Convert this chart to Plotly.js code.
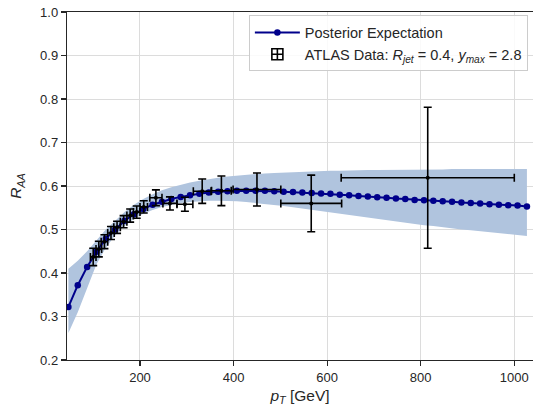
<!DOCTYPE html>
<html>
<head>
<meta charset="utf-8">
<script src="https://cdn.plot.ly/plotly-3.0.1.min.js"></script>
<style>html,body{margin:0;padding:0;background:#fff;}#chart{width:533px;height:416px;}</style>
</head>
<body>
<div id="chart"></div>
<script>
// Posterior expectation curve
const pT = [47,67,87,107,127,147,167,187,207,227,247,267,287,307,327,347,367,387,407,427,447,467,487,507,527,547,567,587,607,627,647,667,687,707,727,747,767,787,807,827,847,867,887,907,927,947,967,987,1007,1027];
const raaMean = [0.322,0.372,0.414,0.449,0.479,0.500,0.520,0.535,0.547,0.557,0.564,0.570,0.575,0.579,0.582,0.585,0.587,0.588,0.589,0.589,0.589,0.589,0.588,0.587,0.586,0.585,0.584,0.583,0.582,0.580,0.579,0.577,0.576,0.574,0.573,0.571,0.570,0.568,0.567,0.566,0.565,0.564,0.562,0.561,0.560,0.558,0.557,0.556,0.555,0.553];
const raaLow = [0.262,0.310,0.365,0.420,0.458,0.487,0.508,0.524,0.536,0.545,0.552,0.557,0.561,0.563,0.565,0.566,0.566,0.566,0.565,0.563,0.561,0.559,0.557,0.554,0.551,0.548,0.545,0.542,0.539,0.536,0.533,0.530,0.527,0.524,0.521,0.518,0.515,0.513,0.510,0.508,0.505,0.503,0.500,0.498,0.496,0.494,0.492,0.489,0.487,0.485];
const raaHigh = [0.410,0.428,0.450,0.475,0.500,0.520,0.540,0.557,0.570,0.581,0.590,0.597,0.603,0.608,0.612,0.616,0.619,0.622,0.624,0.626,0.628,0.629,0.630,0.631,0.632,0.633,0.634,0.634,0.635,0.635,0.636,0.636,0.637,0.637,0.637,0.638,0.638,0.638,0.638,0.638,0.638,0.639,0.639,0.639,0.639,0.639,0.639,0.639,0.639,0.639];

// ATLAS data
const dataPt = [100,112,124,138,151,165,179,193,208,234,264,296,333,374,450,566,815];
const dataRaa = [0.437,0.455,0.472,0.492,0.505,0.518,0.532,0.540,0.552,0.573,0.560,0.558,0.588,0.589,0.592,0.560,0.619];
const dataErrY = [0.020,0.018,0.016,0.015,0.014,0.014,0.015,0.014,0.014,0.018,0.015,0.016,0.028,0.034,0.038,0.065,0.162];
const dataErrX = [6,6,7,7,7,7,7,7,8,13,15,17,19,21,51,65,185];

const atlasName = 'ATLAS Data: <i>R</i><sub><i>jet</i></sub> = 0.4, <i>y</i><sub><i>max</i></sub> = 2.8';
const FONT = 'Liberation Sans, Arial, sans-serif';

const traces = [
  {x: pT, y: raaLow, type: 'scatter', mode: 'lines', line: {width: 0, color: 'rgba(0,0,0,0)'}, showlegend: false, hoverinfo: 'skip'},
  {x: pT, y: raaHigh, type: 'scatter', mode: 'lines', line: {width: 0, color: 'rgba(0,0,0,0)'}, fill: 'tonexty', fillcolor: '#b0c4de', showlegend: false, hoverinfo: 'skip'},
  {x: pT, y: raaMean, type: 'scatter', mode: 'lines+markers', name: 'Posterior Expectation',
   line: {color: '#00008b', width: 2}, marker: {color: '#00008b', size: 6.5}},
  {x: dataPt, y: dataRaa, type: 'scatter', mode: 'markers', name: atlasName, showlegend: false,
   marker: {color: '#000', size: 4},
   error_y: {type: 'data', array: dataErrY, color: '#000', thickness: 1.6, width: 4},
   error_x: {type: 'data', array: dataErrX, color: '#000', thickness: 1.6, width: 4}},
  // legend proxy for the error-bar symbol (drawn outside the y range)
  {x: [dataPt[0]], y: [-1], type: 'scatter', mode: 'markers', name: atlasName,
   marker: {color: '#000', size: 11, symbol: 'square-cross-open', line: {width: 1.6, color: '#000'}}}
];

const axisCommon = {
  showline: true, linecolor: '#262626', linewidth: 1.25,
  ticks: 'outside', ticklen: 5, tickwidth: 1.25, tickcolor: '#262626',
  showgrid: true, gridcolor: '#dcdcdc', gridwidth: 1,
  zeroline: false,
  tickfont: {family: FONT, size: 13, color: '#262626'}
};

const layout = {
  width: 533, height: 416,
  margin: {l: 67, r: 0, t: 12, b: 56},
  paper_bgcolor: '#fff', plot_bgcolor: '#fff',
  showlegend: true,
  xaxis: Object.assign({}, axisCommon, {
    range: [44, 1040], tickvals: [200, 400, 600, 800, 1000], mirror: true,
    title: {text: '<i>p</i><sub><i>T</i></sub> [GeV]', standoff: 6, font: {family: FONT, size: 15.5, color: '#262626'}}
  }),
  yaxis: Object.assign({}, axisCommon, {
    range: [0.2, 1.0], dtick: 0.1, tickformat: '.1f',
    title: {text: '<i>R</i><sub><i>AA</i></sub>', standoff: 14, font: {family: FONT, size: 15.5, color: '#262626'}}
  }),
  legend: {
    x: 0.989, y: 0.99, xanchor: 'right', yanchor: 'top',
    traceorder: 'normal', itemwidth: 45,
    bgcolor: 'rgba(255,255,255,0.85)', bordercolor: '#cccccc', borderwidth: 1,
    font: {family: FONT, size: 14.5, color: '#262626'},
    tracegroupgap: 2
  }
};

Plotly.newPlot('chart', traces, layout, {staticPlot: true, displayModeBar: false});
</script>
</body>
</html>
